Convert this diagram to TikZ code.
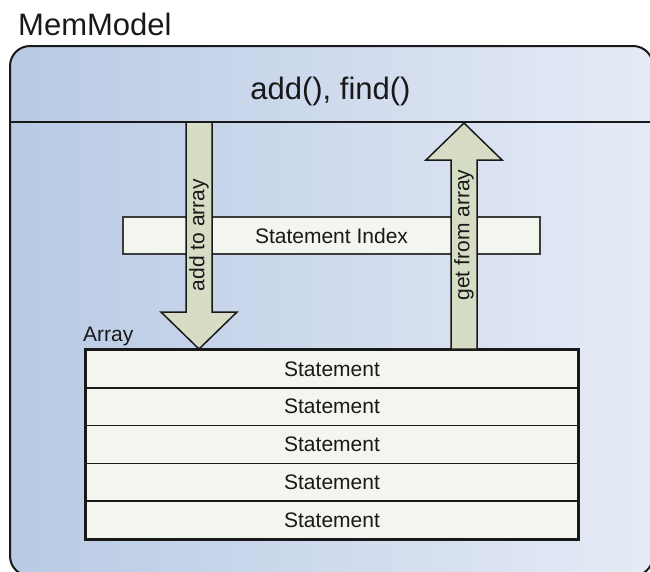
\documentclass[tikz,border=0pt]{standalone}
\usepackage{fontspec}
\setmainfont{Liberation Sans}
\definecolor{modelleft}{RGB}{184,202,228}
\definecolor{modelright}{RGB}{230,235,246}
\definecolor{arrowfill}{RGB}{215,220,196}
\definecolor{cellfill}{RGB}{243,245,239}
\definecolor{ink}{RGB}{25,25,25}
\begin{document}
\begin{tikzpicture}[x=1pt,y=-1pt,
  every node/.style={inner sep=0pt, text=ink},
  small/.style={font=\fontsize{21}{24}\selectfont},
  big/.style={font=\fontsize{31}{36}\selectfont},
  cell/.style={draw=ink, line width=1.6pt, fill=cellfill,
    minimum width=492pt, minimum height=37.8pt, small},
  flow/.style={draw=ink, line width=1.5pt, fill=arrowfill, line join=miter},
]
\useasboundingbox (0,0) rectangle (650,571);

% model container with header band
\node[draw=ink, line width=2pt, rounded corners=20pt,
  left color=modelleft, right color=modelright,
  minimum width=643pt, minimum height=530pt, anchor=north west] (model) at (9,45) {};
\coordinate (hdl) at (9,122);
\coordinate (hdr) at (652,122);
\draw[ink, line width=2pt] (hdl) -- (hdr);

\node[big, anchor=base west] (title) at (18,35) {MemModel};
\node[big, anchor=base] (ops) at (330.5,99) {add(), find()};

% index bar
\node[draw=ink!85, line width=1.5pt, fill=cellfill, minimum width=417pt,
  minimum height=37pt, small] (index) at (331.5,235.5) {Statement Index};

% array of statements
\node[small, anchor=base west] (arraylbl) at (83,341) {Array};
\foreach \i in {1,...,5}
  \node[cell] (row\i) at (332,{368.9+37.8*(\i-1)}) {Statement};
\draw[ink, line width=2.8pt] (row1.north west) rectangle (row5.south east);

% add: down into the array
\draw[flow] (186,122) -- (212,122) -- (212,312) -- (237,312) -- (199,349)
  -- (161,312) -- (186,312) -- cycle;
\node[small, rotate=90] (addlbl) at (199,235) {add to array};

% get: up out of the array
\draw[flow] (451,349) -- (451,160) -- (426,160) -- (464,123) -- (502,160)
  -- (477,160) -- (477,349) -- cycle;
\node[small, rotate=90] (getlbl) at (464,235) {get from array};
\end{tikzpicture}
\end{document}
